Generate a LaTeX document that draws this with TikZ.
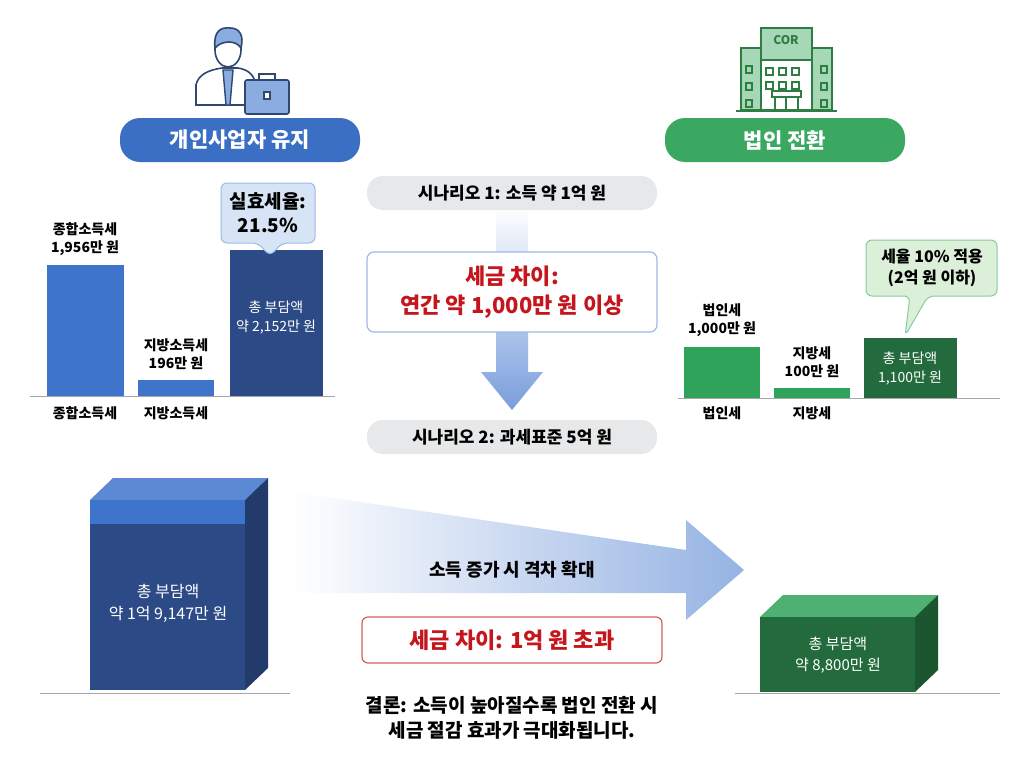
\documentclass[tikz,border=0pt]{standalone}
\usepackage{fontspec}
\setmainfont{Noto Sans CJK KR}
\usetikzlibrary{positioning,shadings}
\definecolor{bluepill}{HTML}{3B6FC4}
\definecolor{bluebar}{HTML}{3E74CC}
\definecolor{navy}{HTML}{2C4A85}
\definecolor{greenpill}{HTML}{3AA860}
\definecolor{greenbar}{HTML}{2FA35A}
\definecolor{darkgreen}{HTML}{236B3C}
\definecolor{pillgray}{HTML}{E6E8EA}
\definecolor{taxred}{HTML}{C4161C}
\definecolor{lightblue}{HTML}{D6E4F5}
\definecolor{lightgreen}{HTML}{DCEFD9}
\definecolor{iconblue}{HTML}{2F4870}
\definecolor{icongreen}{HTML}{2E7D42}
\tikzset{
  pill/.style={rounded corners=20pt, minimum height=44pt, minimum width=240pt, text=white, font=\fontsize{21}{21}\selectfont\bfseries},
  scen/.style={rounded corners=16pt, fill=pillgray, minimum height=34pt, minimum width=290pt, font=\fontsize{17}{17}\selectfont\bfseries},
  lbl/.style={font=\fontsize{14}{18}\selectfont\bfseries, align=center},
  inbar/.style={font=\fontsize{14}{19}\selectfont, align=center, text=white},
  redtxt/.style={text=taxred, font=\fontsize{22}{29}\selectfont\bfseries, align=center}
}
\begin{document}
\begin{tikzpicture}[x=1pt,y=-1pt]
		\useasboundingbox (0,0) rectangle (1024,765);
		
		% person icon
		\draw[iconblue, line width=1.6pt, fill=white] (196,105) -- (196,85) .. controls (198,75) and (208,70) .. (222,68) -- (238,68) .. controls (250,70) and (254,76) .. (256,85) -- (256,105) -- cycle;
		\draw[iconblue, line width=1.4pt, fill=bluebar!60] (223,70) -- (226,105) -- (230,105) -- (233,70) -- cycle;
		\draw[iconblue, line width=1.6pt, fill=white] (228,50) ellipse (13pt and 17pt);
		\draw[iconblue, line width=1.6pt, fill=bluebar!60] (215,48) .. controls (213,30) and (222,27) .. (230,28) .. controls (240,28) and (244,36) .. (241,48) .. controls (236,40) and (222,40) .. (215,48) -- cycle;
		\draw[iconblue, line width=1.6pt, fill=bluebar!60, rounded corners=2pt] (245,80) rectangle (289,114);
		\draw[iconblue, line width=1.6pt] (259,80) -- (259,74) -- (275,74) -- (275,80);
		\draw[iconblue, line width=1.2pt, fill=white] (264,92) rectangle (270,99);
		
		% building icon
		\draw[icongreen, line width=1.6pt, fill=greenpill!45] (741,48) rectangle (832,110);
		\draw[icongreen, line width=1.6pt, fill=greenpill!45] (761,28) rectangle (812,60);
		\node[icongreen, font=\fontsize{12}{12}\selectfont\bfseries] (cor) at (786,40) {COR};
		\draw[icongreen, line width=1.6pt, fill=white] (761,60) rectangle (812,110);
		\foreach \x in {766,779,792} {
			\foreach \y in {68,82} {
				\draw[icongreen, line width=1.2pt] (\x,\y) rectangle ++(7,7);
			}
		}
		\foreach \y in {66,83,100} {
			\draw[icongreen, line width=1.2pt] (746,\y) rectangle ++(6,7);
			\draw[icongreen, line width=1.2pt] (821,\y) rectangle ++(6,7);
		}
		\draw[icongreen, line width=1.4pt] (772,91) rectangle (801,97);
		\draw[icongreen, line width=1.4pt] (775,110) -- (775,97) (786,110) -- (786,97) (798,110) -- (798,97);
		\draw[icongreen, line width=1.8pt] (736,111) -- (837,111);
		
		% title pills
		\node[pill, fill=bluepill] (solo) at (240,140) {개인사업자 유지};
		\node[pill, fill=greenpill] (corp) at (785,140) {법인 전환};
		
		% central vertical arrow
		\shade[top color=white, bottom color=bluebar!70] (496,206) -- (528,206) -- (528,372) -- (543,372) -- (512,410) -- (481,372) -- (496,372) -- cycle;
		\node[scen] (scen1) at (512,193) {시나리오 1: 소득 약 1억 원};
		\node[scen] (scen2) at (512,437) {시나리오 2: 과세표준 5억 원};
		\node[redtxt, draw=bluebar!50, line width=1.2pt, fill=white, rounded corners=7pt, minimum width=290pt, minimum height=80pt] (gap1) at (512,292) {세금 차이:\\연간 약 1,000만 원 이상};
		
		% left bars
		\fill[bluebar] (47,265) rectangle (124,396);
		\fill[bluebar] (138,380) rectangle (214,396);
		\fill[navy] (230,250) rectangle (323,396);
		\draw[gray!70, line width=1pt] (30,396) -- (335,396);
		\node[lbl] (incl) at (85,239) {종합소득세\\1,956만 원};
		\node[lbl] (locl) at (176,354) {지방소득세\\196만 원};
		\node[inbar] (totl) at (276,318) {총 부담액\\약 2,152만 원};
		\node[lbl] (incx) at (85,413) {종합소득세};
		\node[lbl] (locx) at (176,413) {지방소득세};
		\draw[bluebar!50, line width=1pt, fill=lightblue, rounded corners=6pt] (221,183) -- (315,183) -- (315,243) -- (282,243) -- (270,256) -- (258,243) -- (221,243) -- cycle;
		\node[font=\fontsize{19}{24}\selectfont\bfseries, align=center] (eff) at (268,213) {실효세율:\\21.5\%};
		
		% right bars
		\fill[greenbar] (684,347) rectangle (760,398);
		\fill[greenbar] (774,388) rectangle (850,398);
		\fill[darkgreen] (864,338) rectangle (957,398);
		\draw[gray!70, line width=1pt] (678,398) -- (1000,398);
		\node[lbl] (cit) at (722,320) {법인세\\1,000만 원};
		\node[lbl] (loc) at (812,362) {지방세\\100만 원};
		\node[inbar] (totr) at (910,369) {총 부담액\\1,100만 원};
		\node[lbl] (citx) at (722,413) {법인세};
		\node[lbl] (locrx) at (812,413) {지방세};
		\draw[greenpill!60, line width=1pt, fill=lightgreen, rounded corners=6pt] (866,240) -- (997,240) -- (997,296) -- (928,296) -- (905,336) -- (910,296) -- (866,296) -- cycle;
		\node[font=\fontsize{16}{21}\selectfont\bfseries, align=center] (rate) at (932,268) {세율 10\% 적용\\(2억 원 이하)};
		
		% big horizontal arrow
		\shade[left color=white, right color=bluebar!55] (293,492) -- (686,550) -- (686,520) -- (744,570) -- (686,620) -- (686,593) -- (293,593) -- cycle;
		\node[font=\fontsize{18}{18}\selectfont\bfseries] (grow) at (512,570) {소득 증가 시 격차 확대};
		
		% left 3D box
		\fill[bluebar!85] (90,500) -- (113,478) -- (268,478) -- (245,500) -- cycle;
		\fill[navy!80!black] (245,500) -- (268,478) -- (268,668) -- (245,690) -- cycle;
		\fill[navy] (90,500) rectangle (245,690);
		\fill[bluebar] (90,500) rectangle (245,524);
		\draw[gray!70, line width=1pt] (40,693) -- (290,693);
		\node[inbar, font=\fontsize{16}{22}\selectfont] (totbig) at (168,603) {총 부담액\\약 1억 9,147만 원};
		
		% right 3D box
		\fill[greenbar!85] (760,617) -- (783,595) -- (938,595) -- (915,617) -- cycle;
		\fill[darkgreen!80!black] (915,617) -- (938,595) -- (938,670) -- (915,692) -- cycle;
		\fill[darkgreen] (760,617) rectangle (915,692);
		\draw[gray!70, line width=1pt] (735,693) -- (1000,693);
		\node[inbar, font=\fontsize{15}{21}\selectfont] (totsmall) at (838,655) {총 부담액\\약 8,800만 원};
		
		% bottom texts
		\node[redtxt, draw=taxred!70, line width=1.2pt, fill=white, rounded corners=6pt, minimum width=300pt, minimum height=46pt] (gap2) at (512,640) {세금 차이: 1억 원 초과};
		\node[font=\fontsize{19}{25}\selectfont\bfseries, align=center] (concl) at (512,718) {결론: 소득이 높아질수록 법인 전환 시\\세금 절감 효과가 극대화됩니다.};
	\end{tikzpicture}
\end{document}
